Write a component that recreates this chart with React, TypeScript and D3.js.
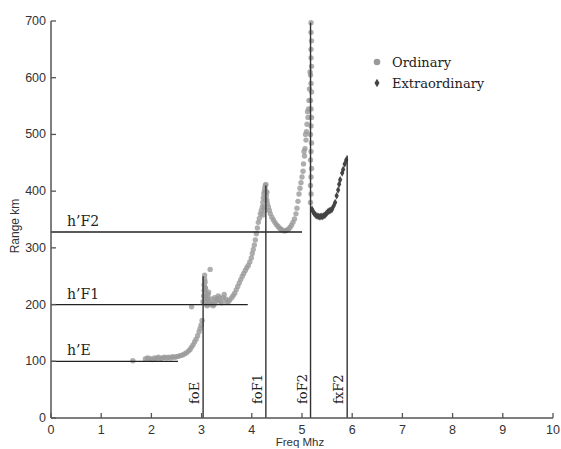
import React from "react";
import * as d3 from "d3";

const W = 561;
const H = 449;

const xTicks = [0, 1, 2, 3, 4, 5, 6, 7, 8, 9, 10];
const yTicks = [0, 100, 200, 300, 400, 500, 600, 700];

const ordFreq = [
  1.63, 1.88, 1.92, 1.97, 2.02, 2.06, 2.1, 2.14, 2.18, 2.22, 2.26, 2.3, 2.34, 2.38, 2.42, 2.46, 2.5, 2.54, 2.58, 2.62,
  2.66, 2.7, 2.74, 2.77, 2.8, 2.83, 2.86, 2.89, 2.92, 2.95, 2.97, 2.99, 3.01, 2.8,
  3.03, 3.04, 3.05, 3.05, 3.06, 3.06, 3.07, 3.07, 3.08, 3.08, 3.09, 3.1, 3.11, 3.12, 3.13, 3.15, 3.17, 3.17, 3.19, 3.21,
  3.23, 3.25, 3.27, 3.3, 3.33, 3.36, 3.38, 3.4, 3.43, 3.45, 3.48, 3.5, 3.53, 3.56, 3.6, 3.63, 3.66, 3.69, 3.72, 3.75,
  3.78, 3.81, 3.84, 3.87, 3.9, 3.93, 3.96, 3.99, 4.01, 4.03, 4.05, 4.07, 4.09, 4.11, 4.13, 4.15, 4.17, 4.19, 4.21, 4.22,
  4.23, 4.24, 4.25, 4.26, 4.27, 4.28, 4.28, 4.29, 4.3, 4.31, 4.33, 4.35, 4.37, 4.4, 4.43, 4.46, 4.49, 4.52, 4.55, 4.58,
  4.61, 4.64, 4.67, 4.7, 4.73, 4.76, 4.79, 4.82, 4.85, 4.88, 4.9, 4.92, 4.94, 4.96, 4.98, 5.0, 5.02, 5.03, 5.05, 5.06,
  5.08, 5.09, 5.1, 5.12, 5.13, 5.14,
  5.17, 5.18, 5.17, 5.18, 5.19, 5.17, 5.18, 5.19, 5.17, 5.18, 5.19, 5.18, 5.17, 5.19, 5.18, 5.17, 5.19, 5.18, 5.18, 5.19,
  5.18, 5.18,
  4.22, 4.25, 4.27, 4.3, 4.26, 3.08, 3.11, 3.14, 3.26, 3.32, 5.04, 5.07, 5.11, 5.16, 5.15,
];
const ordRange = [
  101, 104, 106, 105, 103, 106, 105, 107, 105, 106, 107, 106, 107, 106, 108, 107, 108, 109, 110, 111,
  113, 115, 118, 121, 125, 129, 134, 139, 145, 152, 158, 164, 172, 196,
  205, 215, 225, 235, 245, 252, 240, 230, 220, 212, 205, 200, 198, 210, 218, 205, 200, 262, 210, 202,
  198, 200, 204, 210, 215, 212, 205, 203, 212, 218, 210, 204, 205, 208, 212, 216, 220, 226, 232, 238,
  244, 250, 255, 260, 265, 269, 275, 282, 290, 297, 305, 314, 325, 335, 345, 352, 360, 366, 372, 380,
  388, 395, 400, 405, 410, 412, 400, 392, 384, 378, 372, 366, 360, 354, 349, 345, 341, 338, 335, 333,
  331, 330, 330, 331, 333, 336, 340, 345, 351, 360, 370, 382, 395, 405, 415, 425, 435, 448, 462, 475,
  490, 505, 518, 530, 545, 560,
  380, 395, 410, 425, 440, 455, 470, 485, 500, 515, 530, 545, 560, 575, 590, 605, 620, 635, 650, 665,
  680, 697,
  358, 372, 385, 398, 366, 228, 214, 222, 212, 207, 470, 500, 540, 610, 580,
];

const extFreq = [
  5.2, 5.22, 5.24, 5.26, 5.28, 5.3, 5.32, 5.34, 5.36, 5.38, 5.4, 5.42, 5.44, 5.46, 5.48, 5.5, 5.52, 5.54, 5.56, 5.58,
  5.6, 5.63, 5.66, 5.69, 5.72, 5.74, 5.76, 5.8, 5.82, 5.85, 5.88,
];
const extRange = [
  368, 364, 361, 359, 357, 356, 356, 355, 355, 356, 355, 356, 357, 358, 360, 362, 364, 365, 366, 367,
  368, 374, 380, 392, 402, 412, 420, 432, 438, 448, 455,
];

const hLabels = ["h\u2019E", "h\u2019F1", "h\u2019F2"];
const hRanges = [100, 200, 328];
const hEnds = [2.53, 3.92, 5.0];

const vLabels = ["foE", "foF1", "foF2", "fxF2"];
const vFreqs = [3.03, 4.28, 5.17, 5.9];
const vTops = [250, 410, 697, 463];

const legendLabels = ["Ordinary", "Extraordinary"];

export default function App() {
  const x = d3.scaleLinear().domain([0, 10]).range([51, 553]);
  const y = d3.scaleLinear().domain([0, 700]).range([418, 21]);
  const diamond = d3.symbol().type(d3.symbolDiamond).size(16)();
  const diamondLeg = d3.symbol().type(d3.symbolDiamond).size(22)();
  const serif = "DejaVu Serif";
  const sans = "Liberation Sans, Arial, sans-serif";

  return (
    <svg width={W} height={H} style={{ position: "absolute", left: 0, top: 0, background: "#fff" }}>
      <rect x={0} y={0} width={W} height={H} fill="#fff" />
      {/* data */}
      {ordFreq.map((f, i) => (
        <circle key={"o" + i} cx={x(f)} cy={y(ordRange[i])} r={2.7} fill="#9a9a9a" fillOpacity={0.8} />
      ))}
      {extFreq.map((f, i) => (
        <path key={"e" + i} d={diamond} transform={`translate(${x(f)},${y(extRange[i])})`} fill="#444" />
      ))}
      {/* reference lines */}
      {hRanges.map((r, i) => (
        <g key={"h" + i}>
          <line x1={x(0)} x2={x(hEnds[i])} y1={y(r)} y2={y(r)} stroke="#222" strokeWidth={1.3} />
          <text x={67} y={y(r) - 6} fontFamily={serif} fontSize={14} fill="#222">
            {hLabels[i]}
          </text>
        </g>
      ))}
      {vFreqs.map((f, i) => (
        <g key={"v" + i}>
          <line x1={x(f)} x2={x(f)} y1={y(0)} y2={y(vTops[i])} stroke="#333" strokeWidth={1.4} />
          <text
            transform={`translate(${x(f) - 4},404) rotate(-90)`}
            fontFamily={serif}
            fontSize={13}
            fill="#222"
          >
            {vLabels[i]}
          </text>
        </g>
      ))}
      {/* axes */}
      <line x1={x(0)} x2={x(10)} y1={y(0)} y2={y(0)} stroke="#555" strokeWidth={1.5} />
      <line x1={x(0)} x2={x(0)} y1={y(0)} y2={y(700)} stroke="#555" strokeWidth={1.5} />
      {xTicks.map((t) => (
        <g key={"xt" + t}>
          <line x1={x(t)} x2={x(t)} y1={y(0)} y2={y(0) - 5} stroke="#555" strokeWidth={1.3} />
          <text x={x(t)} y={434} textAnchor="middle" fontFamily={sans} fontSize={12.5} fill="#333">
            {t}
          </text>
        </g>
      ))}
      {yTicks.map((t) => (
        <g key={"yt" + t}>
          <line x1={x(0)} x2={x(0) + 5} y1={y(t)} y2={y(t)} stroke="#555" strokeWidth={1.3} />
          <text x={46} y={y(t) + 4} textAnchor="end" fontFamily={sans} fontSize={12.5} fill="#333">
            {t}
          </text>
        </g>
      ))}
      <text x={300} y={446} textAnchor="middle" fontFamily={sans} fontSize={11.5} fill="#333">
        Freq Mhz
      </text>
      <text transform="translate(19,226) rotate(-90)" textAnchor="middle" fontFamily={sans} fontSize={12} fill="#333">
        Range km
      </text>
      {/* legend */}
      <circle cx={377} cy={62} r={3.3} fill="#9a9a9a" />
      <text x={392} y={67} fontFamily={serif} fontSize={13} fill="#222">
        {legendLabels[0]}
      </text>
      <path d={diamondLeg} transform="translate(377,83)" fill="#444" />
      <text x={392} y={88} fontFamily={serif} fontSize={13} fill="#222">
        {legendLabels[1]}
      </text>
    </svg>
  );
}
